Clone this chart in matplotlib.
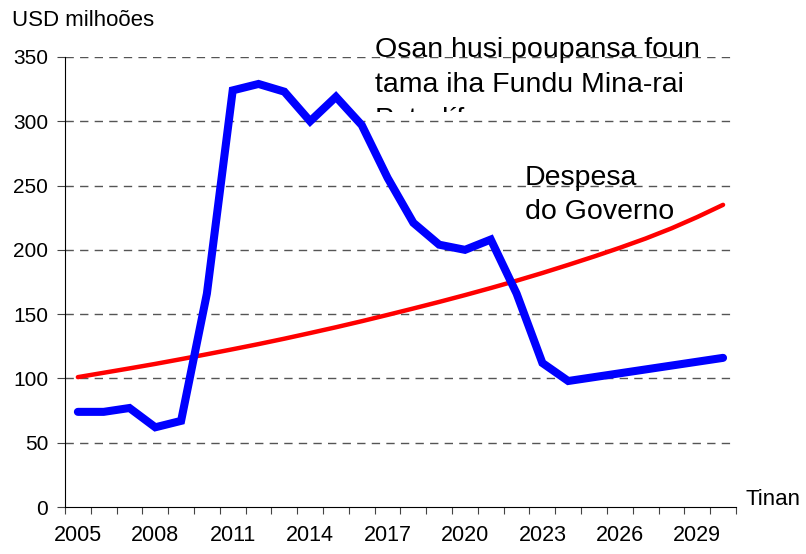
import numpy as np
import matplotlib.pyplot as plt
from matplotlib.transforms import Bbox, TransformedBbox

plt.rcParams['font.family'] = ['Liberation Sans', 'DejaVu Sans']

years = list(range(2005, 2031))
# blue: new savings flowing into the Petroleum Fund
poupansa = [74, 74, 77, 62, 67, 166, 324, 329, 323, 300, 319, 297, 256, 221,
            204, 200, 208, 166, 112, 98, 101, 104, 107, 110, 113, 116]
# red: government expenditure
despesa = [101, 104.4, 107.8, 111.3, 115, 118.8, 122.7, 126.7, 130.9, 135.3,
           139.8, 144.5, 149.4, 154.4, 159.5, 164.8, 170.3, 176, 182, 188.3,
           194.8, 201.6, 208.8, 216.7, 225.5, 235]
label_years = [2005, 2008, 2011, 2014, 2017, 2020, 2023, 2026, 2029]

fig = plt.figure(figsize=(8.06, 5.54), dpi=100)
ax = fig.add_axes([0.0806, 0.0848, 0.8325, 0.8124])

x = np.arange(len(years))
ax.plot(x, despesa, color='#ff0000', lw=3.2, solid_capstyle='round', zorder=3)
ax.plot(x, poupansa, color='#0000ff', lw=5.8, solid_capstyle='round',
        solid_joinstyle='miter', zorder=4)

ax.set_xlim(-0.5, len(years) - 0.5)
ax.set_ylim(0, 350)
ax.set_yticks(range(0, 351, 50))
for v in range(50, 351, 50):
    ax.axhline(v, color='#555555', lw=1, ls=(0, (6, 4.5)), zorder=1)

ax.set_xticks(np.arange(-0.5, len(years), 1.0))
ax.set_xticklabels([])
ax.set_xticks([years.index(y) for y in label_years], minor=True)
ax.set_xticklabels([str(y) for y in label_years], minor=True)
ax.tick_params(axis='x', which='major', direction='out', length=5, width=0.8,
               color='#444444')
ax.tick_params(axis='x', which='minor', length=0, pad=13, labelsize=15.5)
ax.tick_params(axis='y', direction='out', length=6, width=0.8, pad=6,
               labelsize=15, color='#444444')

for s in ['top', 'right']:
    ax.spines[s].set_visible(False)
ax.spines['left'].set_linewidth(0.8)
ax.spines['bottom'].set_linewidth(0.8)

fig.text(12 / 806, 1 - 26 / 554, 'USD milhoões', fontsize=16, va='baseline')
fig.text(745 / 806, 1 - 505 / 554, 'Tinan', fontsize=16, va='baseline')

osan = ['Osan husi poupansa foun', 'tama iha Fundu Mina-rai', 'Petrolíferu']
clip = TransformedBbox(Bbox([[0.4, 1 - 112 / 554], [1.0, 1.0]]), fig.transFigure)
for i, line in enumerate(osan):
    t = fig.text(375 / 806, 1 - (57 + 35 * i) / 554, line, fontsize=20.5,
                 va='baseline', zorder=5)
    t.set_clip_box(clip)
    t.set_clip_on(True)

for i, line in enumerate(['Despesa', 'do Governo']):
    fig.text(525 / 806, 1 - (185 + 34 * i) / 554, line, fontsize=20.5,
             va='baseline', zorder=5)

fig.savefig('out.png', dpi=100)
